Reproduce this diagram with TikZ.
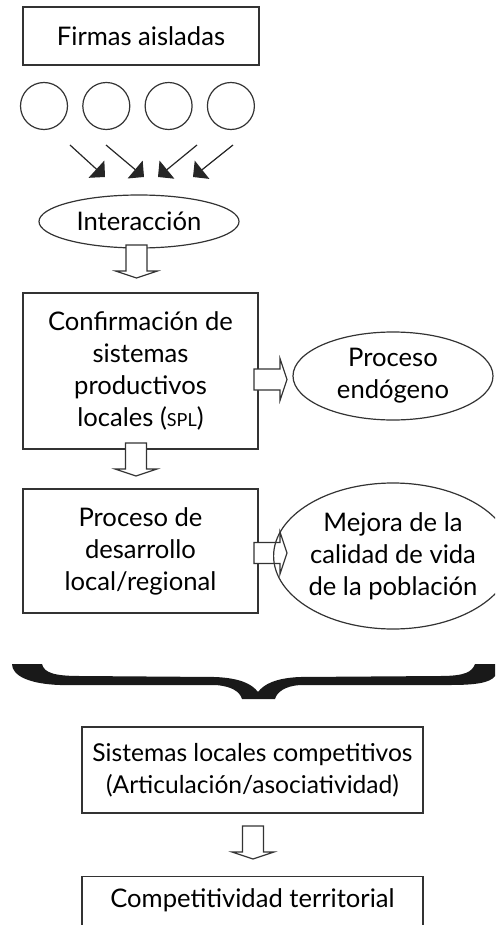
\documentclass[tikz,border=0pt]{standalone}
\usepackage{fontspec}
\setmainfont{Lato}
\usetikzlibrary{arrows.meta,shapes.geometric}
\tikzset{
  every node/.style={
    text=black,
    font=\fontsize{12.8}{16}\selectfont
  },
  box/.style={draw=black!80, line width=0.6pt, rectangle, inner sep=0pt, align=center},
  oval/.style={draw=black!80, line width=0.6pt, ellipse, inner sep=0pt, align=center},
  firm/.style={draw=black!80, line width=0.6pt, circle, minimum size=23.5pt, inner sep=0pt},
  thin arrow/.style={draw=black!85, line width=0.6pt, -{Triangle[length=5.8pt,width=11.6pt]}},
  fat arrow/.pic={
    \draw[draw=black!80, line width=0.6pt, fill=white] (-10.5,0) -- (10.5,0) -- (10.5,26)
      -- (21,26) -- (0,33) -- (-21,26) -- (-10.5,26) -- cycle;
  }
}
\newcommand{\spl}{{\fontsize{9}{9}\selectfont SPL}}

\begin{document}
\begin{tikzpicture}[x=0.5pt, y=-0.5pt]
    \useasboundingbox (0,0) rectangle (495,925);
    \clip (0,0) rectangle (495,925);
    %\draw[gray, very thin] (0,0) grid[step=50] (495,925);
    \node[box, minimum width=118pt, minimum height=29pt] (firmas) at (141,36) {Firmas aisladas};
    \foreach \i in {1,...,4}
      \node[firm] (c\i) at ({44+62.3*(\i-1)},106) {};
    \foreach \sx/\tx [count=\i] in {70/105, 106/144, 197/158, 233/193} {
      \coordinate (s\i) at (\sx,145);
      \coordinate (t\i) at (\tx,177);
      \draw[thin arrow] (s\i) -- (t\i);
    }
    \node[oval, minimum width=100pt, minimum height=26.5pt] (intr) at (139,221.5) {Interacción};
    \pic (f1) at (136.5,245) {fat arrow};

    \node[box, minimum width=117.5pt, minimum height=78pt] (conf) at (140.5,371)
      {Confirmación de\\sistemas\\productivos\\locales (\spl)};
    \pic[rotate=90] (f2) at (254,379.5) {fat arrow};
    \node[oval, minimum width=100pt, minimum height=44pt] (endo) at (393,376) {Proceso\\endógeno};
    \pic (f3) at (136,443) {fat arrow};

    \node[box, minimum width=117.5pt, minimum height=62pt] (desa) at (140.5,551)
      {Proceso de\\desarrollo\\local/regional};
    \pic[rotate=90] (f4) at (254,553) {fat arrow};
    \node[oval, minimum width=100pt, minimum height=73pt] (mejora) at (393,556)
      {Mejora de la\\calidad de vida\\de la población};

    % big brace
    \fill[black!90] (12,664) -- (42,664) .. controls (44,673) and (55,676) .. (80,676)
      -- (215,677) .. controls (240,678) and (252,684) .. (258,692)
      .. controls (264,684) and (276,678) .. (300,677)
      -- (440,676) .. controls (465,676) and (472,672) .. (475,664)
      -- (495,664) -- (495,676) .. controls (490,683) and (475,685) .. (450,685)
      -- (300,685) .. controls (285,686) and (277,692) .. (275,699)
      -- (242,699) .. controls (240,692) and (232,686) .. (215,685)
      -- (60,685) .. controls (30,684) and (12,676) .. (12,664) -- cycle;

    \node[box, minimum width=170.5pt, minimum height=43pt, font=\fontsize{12.3}{16}\selectfont] (sist) at (252.5,770)
      {Sistemas locales competitivos\\(Articulación/asociatividad)};
    \pic (f5) at (253,826) {fat arrow};
    \node[box, minimum width=170.5pt, minimum height=40pt, anchor=north] (comp) at (252.5,876) {};
    \node (comptxt) at (252.5,900) {Competitividad territorial};
\end{tikzpicture}
\end{document}
